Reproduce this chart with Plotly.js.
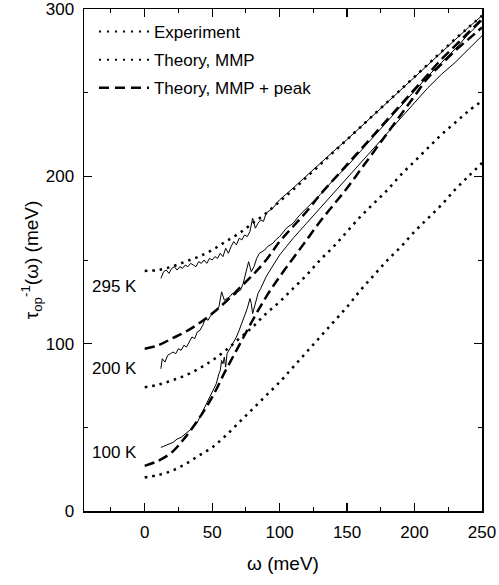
<!DOCTYPE html>
<html>
<head>
<meta charset="utf-8">
<script src="https://cdn.plot.ly/plotly-3.0.1.min.js"></script>
<style>
  html, body { margin: 0; padding: 0; background: #fff; }
  #chart { width: 499px; height: 585px; }
</style>
</head>
<body>
<div id="chart"></div>
<script>
// ---------- data (omega in meV, 1/tau in meV) ----------

// Experiment, 295 K
const exp295X = [12, 14, 16, 18, 20, 22, 24, 26, 28, 30, 32, 34, 36, 38, 40, 42, 44, 46, 48, 50,
                 52, 54, 56, 58, 60, 62, 64, 66, 68, 70, 72, 74, 76, 78, 80, 82, 84, 86, 88, 90,
                 95, 100, 110, 120, 130, 140, 150, 160, 170, 180, 190, 200, 210, 220, 230, 240, 250];
const exp295Y = [139, 143, 144, 142, 145, 146, 144, 146, 145, 147, 146, 148, 147, 146, 149, 148, 150, 148, 151, 150,
                 152, 151, 154, 152, 157, 154, 158, 161, 159, 163, 162, 165, 164, 167, 175, 169, 172, 174, 173, 178,
                 181, 186, 193, 200.5, 208, 215, 222, 229.5, 237, 244.5, 252, 259.5, 267, 274.5, 282, 289, 296];

// Experiment, 200 K
const exp200X = [12, 13, 15, 17, 19, 21, 23, 25, 27, 29, 31, 33, 35, 37, 39, 41, 43, 45, 47, 49,
                 51, 53, 55, 57, 59, 61, 63, 65, 67, 69, 71, 73, 75, 77, 79, 81, 83, 85, 87, 89,
                 91, 93, 95, 97, 100, 105, 110, 115, 120, 130, 140, 150, 160, 170, 180, 190, 200,
                 210, 220, 230, 240, 250];
const exp200Y = [85, 91, 89, 93, 94, 95, 94, 97, 96, 99, 98, 101, 104, 103, 107, 108, 111, 115, 114, 117,
                 118, 120, 122, 131, 126, 127, 128, 130, 129, 131, 132, 136, 142, 149, 143, 146, 151, 154, 155, 156,
                 158, 159, 160, 162, 164, 169, 172, 177, 181, 189, 198, 206, 215, 224, 233, 242, 251,
                 260, 268, 276, 285, 293];

// Experiment, 100 K
const exp100X = [12, 15, 18, 21, 24, 27, 30, 33, 36, 39, 42, 45, 48, 51, 53, 55, 56, 57, 58, 59,
                 60, 61, 63, 65, 68, 70, 72, 74, 76, 78, 79, 80, 82, 84, 86, 88, 90, 93, 96, 100,
                 105, 110, 120, 130, 140, 150, 160, 170, 180, 190, 200, 210, 220, 230, 240, 250];
const exp100Y = [38, 39, 40, 41, 43, 44, 46, 48, 50, 53, 58, 62, 68, 72, 76, 82, 84, 90, 88, 92,
                 86, 94, 97, 100, 104, 108, 112, 116, 121, 127, 124, 118, 124, 130, 133, 137, 140, 144, 148, 153,
                 158, 163, 172, 181, 190, 199, 208, 217, 226, 235, 244, 253, 261, 268, 276, 284];

// Theory curves share one omega grid
const theoryX = [0, 10, 20, 30, 40, 50, 60, 70, 80, 90, 100, 110, 120, 130, 140, 150, 160, 170, 180,
                 190, 200, 210, 220, 230, 240, 250];

// Theory, MMP
const mmp295 = [143.5, 144, 146, 149, 152, 156, 161, 166, 172, 178, 185, 192, 199.5, 207, 214.5, 222,
                229.5, 237, 244.5, 252, 259.5, 267, 274.5, 282, 289, 296];
const mmp200 = [74, 75.5, 78, 81, 85, 90, 96, 103, 110, 118, 125, 133, 141, 150, 158, 167, 176, 184,
                192, 201, 209, 217, 225, 232, 239, 245];
const mmp100 = [20, 21.5, 24, 28, 33, 38, 45, 53, 61, 69, 77, 86, 95, 104, 113, 122, 132, 141, 150,
                158, 167, 175, 183, 192, 200, 208];

// Theory, MMP + peak
const peak200 = [97, 99, 103, 107, 112, 118, 125, 133, 141, 150, 161, 170, 179, 189, 198, 207, 216, 225,
                 234, 243, 252, 261, 270, 278, 286, 294];
const peak100 = [27, 30, 35, 44, 55, 68, 84, 99, 114, 128, 140, 151, 162, 173, 183, 193, 204, 215, 226,
                 237, 248, 259, 267, 275, 282, 289];

// temperature labels
const tempLabels = ["295 K", "200 K", "100 K"];
const tempLabelY = [134, 85, 35];

const legendNames = ["Experiment", "Theory, MMP", "Theory, MMP + peak"];

// ---------- styles ----------
const DOT = "2.5px,5px";
const DASH = "10px,5px";

function expTrace(x, y) {
    return { x: x, y: y, type: "scatter", mode: "lines", showlegend: false,
             line: { color: "#000", width: 1 } };
}

function mmpTrace(y) {
    return { x: theoryX, y: y, type: "scatter", mode: "lines", showlegend: false,
             line: { color: "#000", width: 2.5, dash: DOT, shape: "spline" } };
}

function peakTrace(y) {
    return { x: theoryX, y: y, type: "scatter", mode: "lines", showlegend: false,
             line: { color: "#000", width: 2.5, dash: DASH, shape: "spline" } };
}

// legend-only entries (legend samples in the figure are drawn dotted / dashed)
function legendTrace(name, dash, width) {
    return { x: [null], y: [null], type: "scatter", mode: "lines", name: name,
             legendgroup: name,
             line: { color: "#000", width: width, dash: dash } };
}

const traces = [
    expTrace(exp295X, exp295Y),
    expTrace(exp200X, exp200Y),
    expTrace(exp100X, exp100Y),
    mmpTrace(mmp295),
    mmpTrace(mmp200),
    mmpTrace(mmp100),
    peakTrace(peak200),
    peakTrace(peak100),
    legendTrace(legendNames[0], "2px,6px", 2),
    legendTrace(legendNames[1], "2px,6px", 2),
    legendTrace(legendNames[2], "10px,6px", 2.5)
];

const annotations = tempLabels.map((t, i) => ({
    x: -4, y: tempLabelY[i], xref: "x", yref: "y",
    text: t, showarrow: false, xanchor: "right", yanchor: "middle",
    font: { size: 17, color: "#000" }
}));

const axisCommon = {
    showline: true, linecolor: "#000", linewidth: 1.5, mirror: "ticks",
    ticks: "inside", ticklen: 8, tickwidth: 1.2, tickcolor: "#000",
    showgrid: false, zeroline: false,
    ticklabeloverflow: "allow",
    tickfont: { size: 17, color: "#000" }
};

const layout = {
    width: 499, height: 585,
    margin: { l: 84, r: 17, t: 9, b: 74 },
    paper_bgcolor: "#fff", plot_bgcolor: "#fff",
    font: { family: "Liberation Sans, Arial, sans-serif", color: "#000" },
    xaxis: Object.assign({}, axisCommon, {
        range: [-45, 250], tick0: 0, dtick: 50,
        ticklabelstandoff: 5,
        minor: { dtick: 25, ticks: "inside", ticklen: 4, tickcolor: "#000", tickwidth: 1 },
        title: { text: "ω (meV)", font: { size: 19 }, standoff: 16 }
    }),
    yaxis: Object.assign({}, axisCommon, {
        range: [0, 300], tick0: 0, dtick: 100,
        ticklabelstandoff: 5,
        minor: { dtick: 50, ticks: "inside", ticklen: 4, tickcolor: "#000", tickwidth: 1 },
        title: { text: "τ<sub>op</sub><sup>-1</sup>(ω) (meV)", font: { size: 19 }, standoff: 2 }
    }),
    legend: {
        x: 0.025, y: 0.99, xanchor: "left", yanchor: "top",
        bgcolor: "rgba(0,0,0,0)", borderwidth: 0,
        font: { size: 17, color: "#000" },
        itemwidth: 50,
        tracegroupgap: 3
    },
    annotations: annotations
};

Plotly.newPlot("chart", traces, layout, { displayModeBar: false, staticPlot: true });
</script>
</body>
</html>
